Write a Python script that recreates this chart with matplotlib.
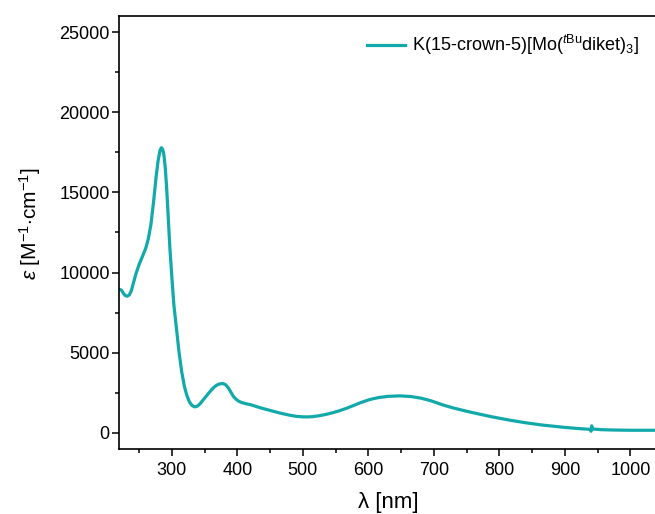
import matplotlib
matplotlib.use("Agg")
import matplotlib.pyplot as plt
from matplotlib.ticker import MultipleLocator

plt.rcParams['font.family'] = ['Liberation Sans', 'DejaVu Sans']
plt.rcParams['mathtext.fontset'] = 'custom'
plt.rcParams['mathtext.rm'] = 'Liberation Sans'
plt.rcParams['mathtext.it'] = 'Liberation Sans:italic'
plt.rcParams['mathtext.bf'] = 'Liberation Sans:bold'

# UV-Vis-NIR absorption spectrum (wavelength in nm, molar absorptivity in M^-1 cm^-1)
wavelength = [
    220, 223, 226, 229, 232, 235, 238, 241, 245, 250, 255, 260, 264, 268, 272,
    276, 279, 282, 284, 286, 288, 290, 292, 294, 297, 300, 303, 307, 311, 315,
    319, 323, 327, 331, 335, 339, 343, 348, 353, 358, 363, 368, 373, 378, 382,
    386, 390, 394, 398, 402, 406, 412, 420, 430, 440, 450, 460, 470, 480, 490,
    500, 506, 515, 525, 535, 545, 555, 565, 575, 587, 602, 615, 630, 648, 665,
    680, 695, 705, 714, 730, 750, 765, 790, 816, 840, 867, 900, 920, 938, 940,
    941, 942, 955, 970, 985, 1000, 1020, 1040,
]
epsilon = [
    8950, 8900, 8700, 8550, 8520, 8600, 8850, 9300, 9900, 10500, 11000, 11500,
    12100, 13000, 14400, 16000, 17000, 17650, 17800, 17700, 17300, 16500, 15300,
    13800, 11500, 9700, 8000, 6500, 5000, 3800, 2900, 2300, 1900, 1680, 1600,
    1650, 1800, 2050, 2300, 2550, 2780, 2950, 3040, 3060, 2990, 2800, 2530,
    2250, 2080, 1960, 1880, 1810, 1740, 1610, 1490, 1380, 1270, 1170, 1080,
    1010, 980, 975, 990, 1050, 1130, 1230, 1350, 1490, 1650, 1850, 2060, 2180,
    2260, 2290, 2250, 2150, 1990, 1850, 1720, 1530, 1330, 1190, 970, 770, 610,
    460, 320, 250, 200, 80, 420, 220, 180, 160, 150, 140, 140, 140,
]

series_label = r'K(15-crown-5)[Mo($^{\mathit{t}\mathrm{Bu}}$diket)$_3$]'
line_color = '#12a9aa'

fig = plt.figure(figsize=(6.55, 5.14), dpi=100)
ax = fig.add_axes([0.1824, 0.1274, 0.820, 0.8424])

ax.plot(wavelength, epsilon, color=line_color, lw=2.3, label=series_label)

ax.set_xlim(220, 1040)
ax.set_ylim(-1000, 26060)

ax.xaxis.set_major_locator(MultipleLocator(100))
ax.xaxis.set_minor_locator(MultipleLocator(50))
ax.yaxis.set_major_locator(MultipleLocator(5000))
ax.yaxis.set_minor_locator(MultipleLocator(2500))

ax.tick_params(which='both', direction='out', top=False, right=False,
               labelsize=13, width=1.1, colors='black')
ax.tick_params(which='major', length=5)
ax.tick_params(which='minor', length=3)
ax.tick_params(axis='y', pad=2)
ax.tick_params(axis='x', pad=5)

for side in ('left', 'bottom', 'top'):
    ax.spines[side].set_linewidth(1.2)
ax.spines['right'].set_visible(False)

ax.set_xlabel('λ [nm]', fontsize=16, labelpad=9)
ax.set_ylabel(r'$\varepsilon$ [M$^{-1}$$\cdot$cm$^{-1}$]', fontsize=15)
ax.yaxis.set_label_coords(-0.142, 0.52)

ax.legend(loc='upper left', bbox_to_anchor=(0.461, 0.960), frameon=False,
          fontsize=13, handlelength=2.1, handletextpad=0.4, borderpad=0,
          borderaxespad=0)

fig.savefig('out.png', dpi=100)
